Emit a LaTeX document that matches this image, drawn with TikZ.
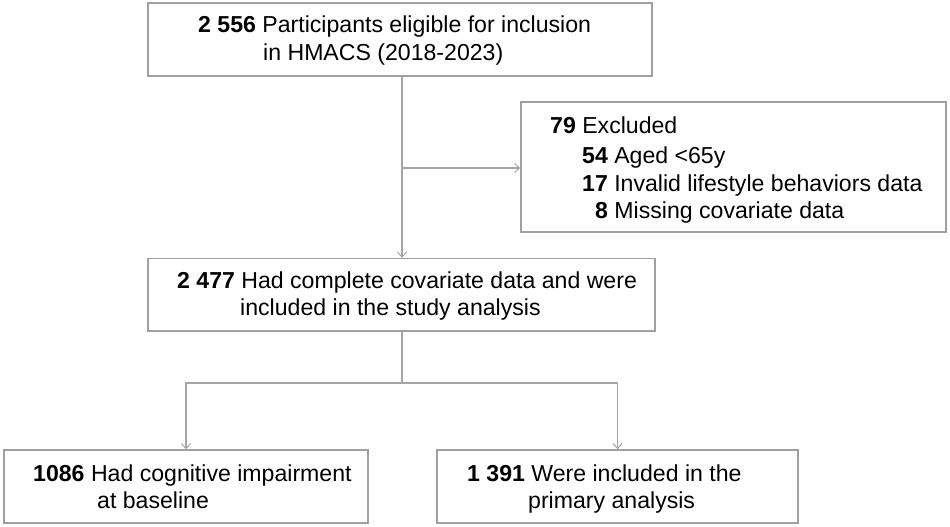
\documentclass[tikz,border=0pt]{standalone}
\usepackage{fontspec}
\setmainfont{Liberation Sans}
\usetikzlibrary{arrows.meta}
\definecolor{boxgray}{RGB}{160,160,160}
\definecolor{linegray}{RGB}{165,165,165}
\tikzset{
  fbox/.style={draw=boxgray, line width=1.4pt, fill=white, rectangle, inner sep=0pt},
  txt/.style={anchor=base west, inner sep=0pt, font=\fontsize{23.1}{28}\selectfont},
  conn/.style={draw=linegray, line width=1.2pt},
  arr/.style={conn, -{Straight Barb[length=5pt,width=9pt,line width=1pt]}}
}
\begin{document}
\begin{tikzpicture}[x=1pt,y=-1pt]
\useasboundingbox (0,0) rectangle (950,527);
% boxes
\node[fbox, minimum width=504pt, minimum height=73pt] (top) at (400,39.5) {};
\node[fbox, minimum width=425pt, minimum height=130pt] (excl) at (733.5,167) {};
\node[fbox, minimum width=507pt, minimum height=72.5pt] (mid) at (401.5,294.75) {};
\node[fbox, minimum width=364pt, minimum height=73pt] (bl) at (186,486.5) {};
\node[fbox, minimum width=361pt, minimum height=73pt] (br) at (617.5,486.5) {};
% texts
\node[txt] (t1a) at (198,33) {\textbf{2 556} Participants eligible for inclusion};
\node[txt] (t1b) at (263,61) {in HMACS (2018-2023)};
\node[txt] (t2a) at (550,133) {\textbf{79} Excluded};
\node[txt] (t2b) at (582,163) {\textbf{54} Aged <65y};
\node[txt] (t2c) at (582,191) {\textbf{17} Invalid lifestyle behaviors data};
\node[txt] (t2d) at (595,218) {\textbf{8} Missing covariate data};
\node[txt] (t3a) at (177,288) {\textbf{2 477} Had complete covariate data and were};
\node[txt] (t3b) at (240,315) {included in the study analysis};
\node[txt] (t4a) at (33,481) {\textbf{1086} Had cognitive impairment};
\node[txt] (t4b) at (97,508) {at baseline};
\node[txt] (t5a) at (467,481) {\textbf{1 391} Were included in the};
\node[txt] (t5b) at (528,508) {primary analysis};
% connectors
\coordinate (j1) at (402,168);
\coordinate (j2) at (402,383);
\draw[arr] (top.south -| j1) -- (mid.north -| j1);
\draw[arr] (j1) -- (excl.west |- j1);
\draw[conn] (mid.south -| j2) -- (j2);
\draw[arr] (j2) -| (bl.north);
\draw[arr] (j2) -| (br.north);
\end{tikzpicture}
\end{document}
